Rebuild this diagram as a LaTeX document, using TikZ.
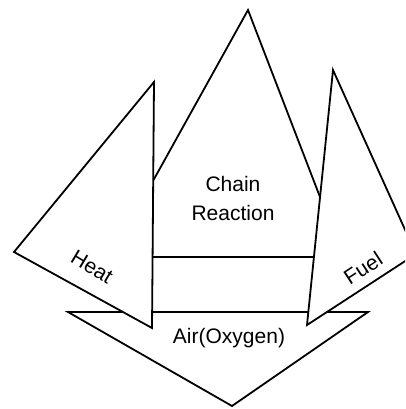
\documentclass[tikz,border=0pt]{standalone}
\usepackage{fontspec}
\setmainfont{Liberation Sans}
\begin{document}
\begin{tikzpicture}[x=1pt,y=-1pt,
  edge/.style={draw=black,line width=1.8pt,line join=miter,fill=white},
  rule/.style={draw=black,line width=1.8pt},
  lbl/.style={font=\fontsize{21}{29}\selectfont,text=black,inner sep=0pt,align=center}]
\fill[white] (0,0) rectangle (405,409);
\useasboundingbox (0,0) rectangle (405,409);
\clip (0,0) rectangle (405,409);
% corner coordinates
\coordinate (airL) at (68,312);
\coordinate (airR) at (368,312);
\coordinate (airB) at (232,406);
\coordinate (heatT) at (154,82);
\coordinate (heatL) at (14,252);
\coordinate (heatB) at (152,328);
\coordinate (fuelT) at (333,70);
\coordinate (fuelR) at (416,254);
\coordinate (fuelB) at (307,325);
\coordinate (chainT) at (248,10);
\coordinate (chainL) at (153.5,180);
\coordinate (chainR) at (320,197);
\coordinate (midL) at (153,257);
\coordinate (midR) at (313,257);
\coordinate (botL) at (152.5,312);
\coordinate (botR) at (308.5,312);
% shapes
\path[edge] (airL) -- (airR) -- (airB) -- cycle;
\path[edge] (heatT) -- (heatL) -- (heatB) -- cycle;
\path[edge] (fuelT) -- (fuelR) -- (fuelB) -- cycle;
\draw[rule] (chainL) -- (chainT) -- (chainR);
\draw[rule] (midL) -- (midR);
\draw[rule] (botL) -- (botR);
% labels
\node[lbl] (chain) at (233,198) {Chain\\Reaction};
\node[lbl,rotate=-31] (heat) at (92,267) {Heat};
\node[lbl,rotate=33] (fuel) at (363,268) {Fuel};
\node[lbl] (air) at (229,338) {Air(Oxygen)};
\end{tikzpicture}
\end{document}
